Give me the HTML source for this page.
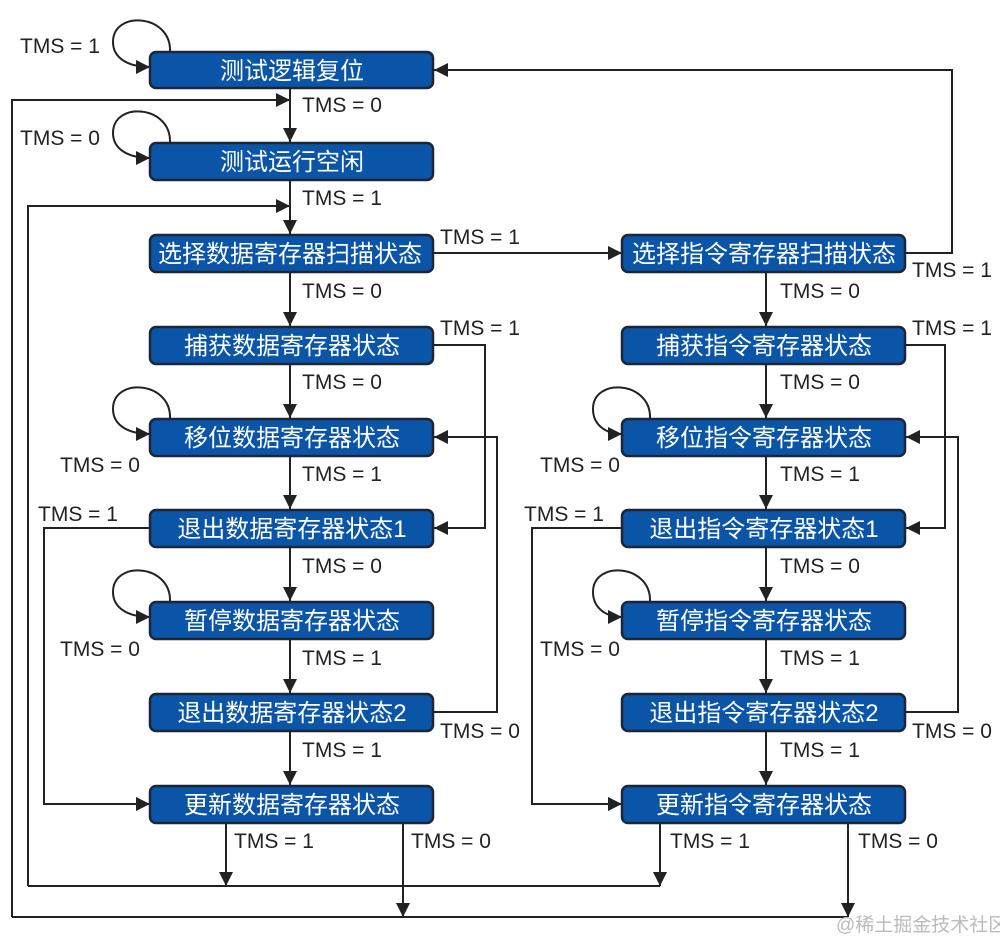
<!DOCTYPE html>
<html><head><meta charset="utf-8"><style>
html,body{margin:0;padding:0;background:#fff;}
svg{display:block;}
.t{font-family:"Liberation Sans","Noto Sans CJK SC",sans-serif;font-size:21px;fill:#222;}
.b{font-family:"Liberation Sans","Noto Sans CJK SC",sans-serif;font-size:24px;fill:#fff;text-anchor:middle;}
rect{fill:#0a55a8;stroke:#1c2636;stroke-width:2.5;}
.l{fill:none;stroke:#222;stroke-width:2;}
</style></head><body>
<svg width="1000" height="939" viewBox="0 0 1000 939">
<defs>
<marker id="m" viewBox="0 0 10 10" refX="10" refY="5" markerWidth="14" markerHeight="14" markerUnits="userSpaceOnUse" orient="auto"><path d="M0,0L10,5L0,10z" fill="#222"/></marker></defs>
<g class="l" marker-end="url(#m)">
<path d="M290,88V142"/><path d="M290,180V234"/><path d="M290,272V326"/><path d="M290,364V418"/><path d="M290,456V509"/><path d="M290,547V601"/><path d="M290,639V693"/><path d="M290,731V785"/>
<path d="M766,272V326"/><path d="M766,364V418"/><path d="M766,456V509"/><path d="M766,547V601"/><path d="M766,639V693"/><path d="M766,731V785"/>
<path d="M433,253H622"/>
<path d="M905,253H952V70H434"/>
<path d="M12,917V100H290"/>
<path d="M28,886V206H290"/>
<path d="M433,345H485V528H434"/>
<path d="M433,712H497V437H434"/>
<path d="M150,528H44V804H150"/>
<path d="M905,345H945V528H906"/>
<path d="M905,712H958V437H906"/>
<path d="M622,528H532V804H622"/>
<path d="M226,823V886"/><path d="M403,823V917"/><path d="M660,823V886"/><path d="M848,823V917"/>
<path d="M170,51C171,14 113,10 113,42C113,58 128,67 150,67"/>
<path d="M170,142C171,105 113,101 113,133C113,149 128,158 150,158"/>
<path d="M170,418C171,381 113,377 113,409C113,425 128,434 150,434"/>
<path d="M170,601C171,564 113,560 113,592C113,608 128,617 150,617"/>
<path d="M650,418C651,381 593,377 593,409C593,425 606,434 622,434"/>
<path d="M650,601C651,564 593,560 593,592C593,608 606,617 622,617"/>
</g>
<path class="l" d="M12,917H848M28,886H660"/>
<g>
<rect x="150" y="52" width="283" height="36" rx="6"/><rect x="150" y="143" width="283" height="37" rx="6"/>
<rect x="150" y="235" width="283" height="37" rx="6"/><rect x="150" y="327" width="283" height="37" rx="6"/>
<rect x="150" y="419" width="283" height="37" rx="6"/><rect x="150" y="510" width="283" height="37" rx="6"/>
<rect x="150" y="602" width="283" height="37" rx="6"/><rect x="150" y="694" width="283" height="37" rx="6"/>
<rect x="150" y="786" width="283" height="37" rx="6"/>
<rect x="622" y="235" width="283" height="37" rx="6"/><rect x="622" y="327" width="283" height="37" rx="6"/>
<rect x="622" y="419" width="283" height="37" rx="6"/><rect x="622" y="510" width="283" height="37" rx="6"/>
<rect x="622" y="602" width="283" height="37" rx="6"/><rect x="622" y="694" width="283" height="37" rx="6"/>
<rect x="622" y="786" width="283" height="37" rx="6"/>
</g>
<g class="b">
<text x="292" y="79">测试逻辑复位</text><text x="292" y="170">测试运行空闲</text>
<text x="290" y="262">选择数据寄存器扫描状态</text><text x="292" y="354">捕获数据寄存器状态</text>
<text x="292" y="446">移位数据寄存器状态</text><text x="292" y="537">退出数据寄存器状态1</text>
<text x="292" y="629">暂停数据寄存器状态</text><text x="292" y="721">退出数据寄存器状态2</text>
<text x="292" y="813">更新数据寄存器状态</text>
<text x="764" y="262">选择指令寄存器扫描状态</text><text x="764" y="354">捕获指令寄存器状态</text>
<text x="764" y="446">移位指令寄存器状态</text><text x="764" y="537">退出指令寄存器状态1</text>
<text x="764" y="629">暂停指令寄存器状态</text><text x="764" y="721">退出指令寄存器状态2</text>
<text x="764" y="813">更新指令寄存器状态</text>
</g>
<g class="t">
<text x="20" y="53">TMS = 1</text><text x="302" y="112">TMS = 0</text>
<text x="20" y="145">TMS = 0</text><text x="302" y="205">TMS = 1</text>
<text x="440" y="244">TMS = 1</text><text x="302" y="298">TMS = 0</text>
<text x="440" y="335">TMS = 1</text><text x="302" y="389">TMS = 0</text>
<text x="60" y="472">TMS = 0</text><text x="302" y="481">TMS = 1</text>
<text x="38" y="521">TMS = 1</text><text x="302" y="573">TMS = 0</text>
<text x="60" y="656">TMS = 0</text><text x="302" y="665">TMS = 1</text>
<text x="440" y="738">TMS = 0</text><text x="302" y="757">TMS = 1</text>
<text x="234" y="848">TMS = 1</text><text x="411" y="848">TMS = 0</text>
<text x="912" y="277">TMS = 1</text><text x="780" y="298">TMS = 0</text>
<text x="912" y="335">TMS = 1</text><text x="780" y="389">TMS = 0</text>
<text x="540" y="472">TMS = 0</text><text x="780" y="481">TMS = 1</text>
<text x="524" y="521">TMS = 1</text><text x="780" y="573">TMS = 0</text>
<text x="540" y="656">TMS = 0</text><text x="780" y="665">TMS = 1</text>
<text x="912" y="738">TMS = 0</text><text x="780" y="757">TMS = 1</text>
<text x="670" y="848">TMS = 1</text><text x="858" y="848">TMS = 0</text>
</g>
<text x="836" y="931" style="font-family:'Liberation Sans','Noto Sans CJK SC',sans-serif;font-size:19px;fill:#bbb;">@稀土掘金技术社区</text>
</svg>
</body></html>
